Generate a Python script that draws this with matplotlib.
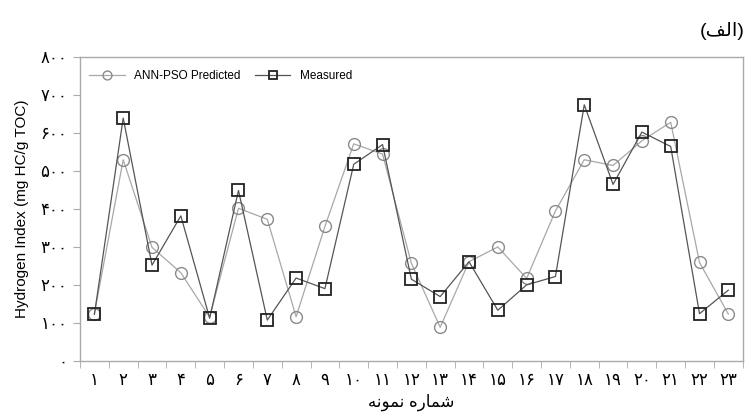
import numpy as np
import matplotlib
matplotlib.use('Agg')
import matplotlib.pyplot as plt

plt.rcParams['font.family'] = ['Liberation Sans', 'DejaVu Sans']

# شماره نمونه ها و مقادیر خوانده شده از نمودار
samples = np.arange(1, 24)
predicted = [124, 530, 299, 232, 115, 402, 373, 116, 354, 572, 545, 257,
             88, 261, 300, 217, 395, 530, 515, 580, 629, 259, 123]
measured = [122, 640, 252, 382, 112, 449, 107, 218, 190, 518, 570, 215,
            169, 261, 133, 200, 222, 675, 465, 603, 565, 124, 186]
y_ticks = [0, 100, 200, 300, 400, 500, 600, 700, 800]

fa_digits = '۰۱۲۳۴۵۶۷۸۹'
def to_fa(n):
    return ''.join(fa_digits[int(c)] for c in str(n))

# متن فارسی به صورت شکل های نمایشی (ترتیب دیداری)
title_txt = '(' + '\uFED2\uFEDF\uFE8D' + ')'
xlabel_txt = '\uFEEA\uFEE7\uFEEE\uFEE4\uFEE7 \uFEE9\uFEAD\uFE8E\uFEE4\uFEB7'

fig = plt.figure(figsize=(7.51, 4.16), dpi=100)
ax = fig.add_axes([0.1065, 0.133, 0.8825, 0.729])

ax.plot(samples, predicted, color='#a8a8a8', lw=0.9, marker='o', ms=8.5,
        mfc='none', mec='#8a8a8a', mew=1.0, label='ANN-PSO Predicted', zorder=2)
ax.plot(samples, measured, color='#555555', lw=0.9, marker='s', ms=8.5,
        mfc='none', mec='#222222', mew=1.3, label='Measured', zorder=3)

ax.set_xlim(0.5, 23.5)
ax.set_ylim(0, 800)
ax.set_yticks(y_ticks)
ax.set_yticklabels([to_fa(v) for v in y_ticks], fontsize=12)
ax.set_xticks(samples)
ax.set_xticklabels([to_fa(v) for v in samples], fontsize=12)
ax.set_xticks(np.arange(0.5, 24, 1), minor=True)
ax.tick_params(axis='x', which='major', length=0, pad=9)
ax.tick_params(axis='x', which='minor', length=5, color='#aaaaaa')
ax.tick_params(axis='y', length=5, color='#aaaaaa', pad=4)

for s in ax.spines.values():
    s.set_color('#aaaaaa')
    s.set_linewidth(1.0)

ax.set_ylabel('Hydrogen Index (mg HC/g TOC)', fontsize=11, labelpad=8)
ax.set_xlabel(xlabel_txt, fontsize=12, labelpad=4)
fig.text(0.992, 0.925, title_txt, ha='right', va='center', fontsize=14)

ax.legend(loc='upper left', ncol=2, frameon=False, fontsize=8.5,
          handlelength=3, columnspacing=1.2, borderaxespad=0.4,
          markerscale=0.75, bbox_to_anchor=(0.0, 0.99))

fig.savefig('out.png', dpi=100)
